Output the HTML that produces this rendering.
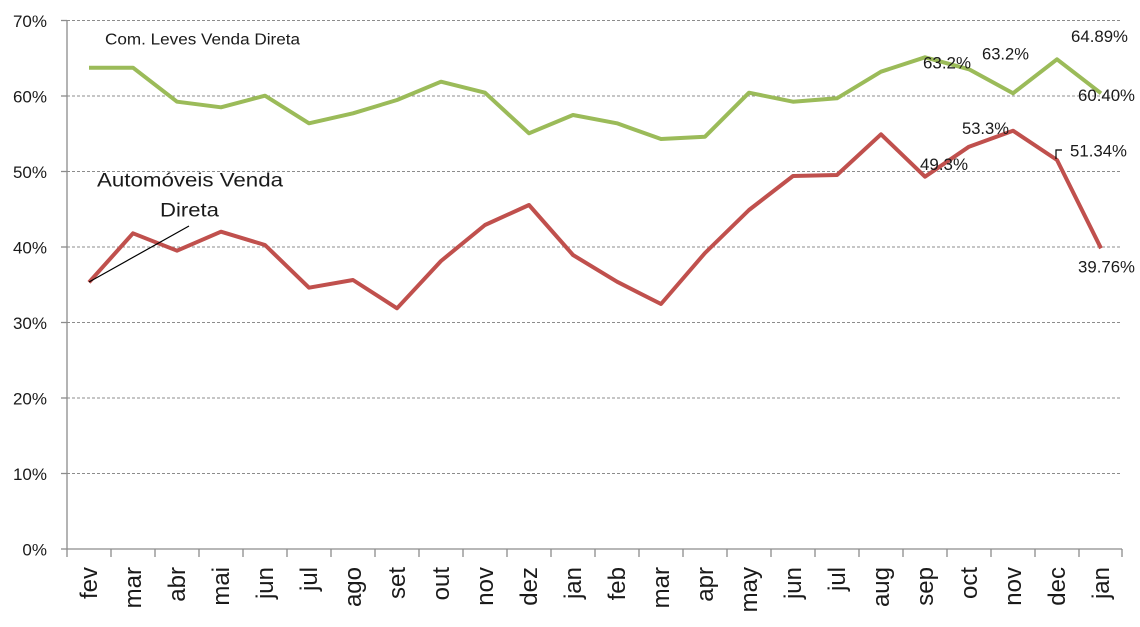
<!DOCTYPE html>
<html><head><meta charset="utf-8"><style>
html,body{margin:0;padding:0;background:#fff;}
svg{display:block;}
text{font-family:"Liberation Sans",sans-serif;fill:#1a1a1a;}
</style></head><body>
<svg width="1140" height="627" viewBox="0 0 1140 627" xmlns="http://www.w3.org/2000/svg">
<g stroke="#8c8c8c" stroke-width="1" stroke-dasharray="3,2">
<line x1="67" y1="20.5" x2="1122" y2="20.5"/>
<line x1="67" y1="96" x2="1122" y2="96"/>
<line x1="67" y1="171.5" x2="1122" y2="171.5"/>
<line x1="67" y1="247" x2="1122" y2="247"/>
<line x1="67" y1="322.5" x2="1122" y2="322.5"/>
<line x1="67" y1="398" x2="1122" y2="398"/>
<line x1="67" y1="473.5" x2="1122" y2="473.5"/>
</g>
<g stroke="#8c8c8c" stroke-width="1.3">
<line x1="67" y1="20" x2="67" y2="549"/>
<line x1="67" y1="549" x2="1122" y2="549"/>
<line x1="61" y1="20.5" x2="67" y2="20.5"/>
<line x1="61" y1="96" x2="67" y2="96"/>
<line x1="61" y1="171.5" x2="67" y2="171.5"/>
<line x1="61" y1="247" x2="67" y2="247"/>
<line x1="61" y1="322.5" x2="67" y2="322.5"/>
<line x1="61" y1="398" x2="67" y2="398"/>
<line x1="61" y1="473.5" x2="67" y2="473.5"/>
<line x1="61" y1="549" x2="67" y2="549"/>
<path d="M67 549V557M111 549V557M155 549V557M199 549V557M243 549V557M287 549V557M331 549V557M375 549V557M419 549V557M463 549V557M507 549V557M551 549V557M595 549V557M639 549V557M683 549V557M727 549V557M771 549V557M815 549V557M859 549V557M903 549V557M947 549V557M991 549V557M1035 549V557M1079 549V557M1122 549V557"/>
</g>
<g font-size="17" text-anchor="end">
<text x="47" y="27">70%</text>
<text x="47" y="102.5">60%</text>
<text x="47" y="178">50%</text>
<text x="47" y="253.5">40%</text>
<text x="47" y="329">30%</text>
<text x="47" y="404.5">20%</text>
<text x="47" y="480">10%</text>
<text x="47" y="555.5">0%</text>
</g>
<g font-size="24" text-anchor="end">
<text transform="translate(97,567) rotate(-90)">fev</text>
<text transform="translate(141,567) rotate(-90)">mar</text>
<text transform="translate(185,567) rotate(-90)">abr</text>
<text transform="translate(229,567) rotate(-90)">mai</text>
<text transform="translate(273,567) rotate(-90)">jun</text>
<text transform="translate(317,567) rotate(-90)">jul</text>
<text transform="translate(361,567) rotate(-90)">ago</text>
<text transform="translate(405,567) rotate(-90)">set</text>
<text transform="translate(449,567) rotate(-90)">out</text>
<text transform="translate(493,567) rotate(-90)">nov</text>
<text transform="translate(537,567) rotate(-90)">dez</text>
<text transform="translate(581,567) rotate(-90)">jan</text>
<text transform="translate(625,567) rotate(-90)">feb</text>
<text transform="translate(669,567) rotate(-90)">mar</text>
<text transform="translate(713,567) rotate(-90)">apr</text>
<text transform="translate(757,567) rotate(-90)">may</text>
<text transform="translate(801,567) rotate(-90)">jun</text>
<text transform="translate(845,567) rotate(-90)">jul</text>
<text transform="translate(889,567) rotate(-90)">aug</text>
<text transform="translate(933,567) rotate(-90)">sep</text>
<text transform="translate(977,567) rotate(-90)">oct</text>
<text transform="translate(1021,567) rotate(-90)">nov</text>
<text transform="translate(1065,567) rotate(-90)">dec</text>
<text transform="translate(1109,567) rotate(-90)">jan</text>
</g>
<polyline fill="none" stroke="#9BBB59" stroke-width="4" stroke-linejoin="round" points="89,67.7 133,67.7 177,101.7 221,107.3 265,95.7 309,123.3 353,113.3 397,100 441,81.7 485,92.7 529,133.3 573,115 617,123.3 661,139 705,136.7 749,92.7 793,101.7 837,98.3 881,71.7 925,57.3 969,69.3 1013,93.3 1057,59.3 1101,93.3"/>
<polyline fill="none" stroke="#C0504D" stroke-width="4" stroke-linejoin="round" points="89,282.3 133,233.3 177,250.7 221,231.7 265,245 309,287.7 353,280 397,308.3 441,261 485,225 529,205 573,255 617,281.7 661,304 705,253 749,210 793,176 837,175 881,134.3 925,176.7 969,146.7 1013,130.7 1057,160 1101,248.3"/>
<line x1="89" y1="282" x2="189" y2="226" stroke="#000" stroke-width="1.2"/>
<path d="M1056 159V150H1062" fill="none" stroke="#000" stroke-width="1.2"/>
<text x="105" y="44.3" font-size="15.5" textLength="195" lengthAdjust="spacingAndGlyphs">Com. Leves Venda Direta</text>
<text x="97" y="186.7" font-size="19.5" textLength="186" lengthAdjust="spacingAndGlyphs">Automóveis Venda</text>
<text x="160" y="216.7" font-size="19.5" textLength="59" lengthAdjust="spacingAndGlyphs">Direta</text>
<g font-size="17">
<text x="1071" y="42" textLength="57" lengthAdjust="spacingAndGlyphs">64.89%</text>
<text x="923" y="68.7" textLength="48" lengthAdjust="spacingAndGlyphs">63.2%</text>
<text x="982" y="59.3" textLength="47" lengthAdjust="spacingAndGlyphs">63.2%</text>
<text x="1078" y="101" textLength="57" lengthAdjust="spacingAndGlyphs">60.40%</text>
<text x="962" y="134" textLength="47" lengthAdjust="spacingAndGlyphs">53.3%</text>
<text x="920" y="170" textLength="48" lengthAdjust="spacingAndGlyphs">49.3%</text>
<text x="1070" y="156.7" textLength="57" lengthAdjust="spacingAndGlyphs">51.34%</text>
<text x="1078" y="272.7" textLength="57" lengthAdjust="spacingAndGlyphs">39.76%</text>
</g>
</svg>
</body></html>
